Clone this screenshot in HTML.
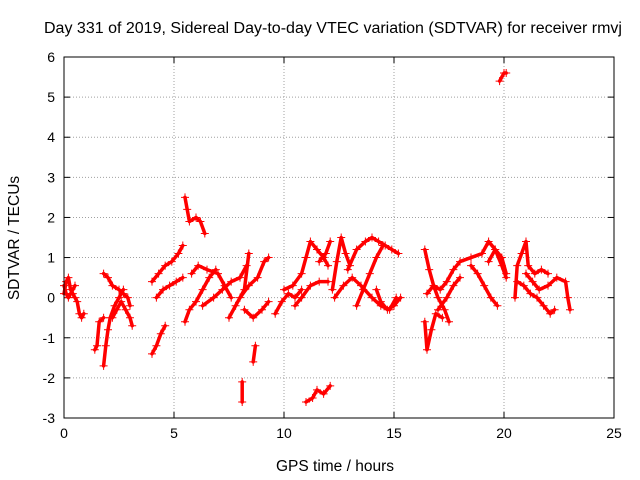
<!DOCTYPE html>
<html><head><meta charset="utf-8"><style>
body{margin:0;background:#fff}
svg{display:block;font-family:"Liberation Sans",sans-serif}
</style></head><body>
<svg id="chart" width="640" height="480" viewBox="0 0 640 480" xmlns="http://www.w3.org/2000/svg">
<text x="333" y="33" font-size="15.5" text-anchor="middle" textLength="578" lengthAdjust="spacingAndGlyphs">Day 331 of 2019, Sidereal Day-to-day VTEC variation (SDTVAR) for receiver rmvj</text>
<text x="335" y="471" font-size="15.5" text-anchor="middle">GPS time / hours</text>
<text x="19" y="238" font-size="15.5" text-anchor="middle" transform="rotate(-90 19 238)">SDTVAR / TECUs</text>
<g id="grid"></g><g id="ticks"></g><g id="series"></g>
<rect x="64" y="57" width="550" height="361" fill="none" stroke="#000" stroke-width="1"/>
</svg>
<script>
const xTicks=[0,5,10,15,20,25];
const yTicks=[-3,-2,-1,0,1,2,3,4,5,6];
const tracks=[
[[0,0.1],[0.1,0.4],[0.2,0.5],[0.3,0.2],[0.4,0.1],[0.5,0.0],[0.6,-0.1],[0.7,-0.4],[0.8,-0.5],[0.9,-0.4]],
[[0,0.3],[0.1,0.1],[0.2,0.0],[0.3,0.1],[0.5,0.3]],
[[1.4,-1.3],[1.5,-1.2],[1.6,-0.6],[1.8,-0.5]],
[[1.8,-1.7],[1.9,-1.2],[2.0,-0.8],[2.1,-0.5],[2.3,-0.2],[2.5,0.0],[2.7,0.2]],
[[1.8,0.6],[2.0,0.5],[2.2,0.3],[2.5,0.2],[2.7,0.1],[2.9,0.0],[3.0,-0.2]],
[[2.2,-0.5],[2.4,-0.3],[2.6,-0.1],[2.8,-0.3],[3.0,-0.5],[3.1,-0.7]],
[[4.0,-1.4],[4.2,-1.2],[4.4,-0.9],[4.6,-0.7]],
[[4.0,0.4],[4.3,0.6],[4.6,0.8],[4.9,0.9],[5.2,1.1],[5.4,1.3]],
[[4.2,0.0],[4.5,0.2],[4.8,0.3],[5.1,0.4],[5.4,0.5]],
[[5.5,2.5],[5.6,2.2],[5.7,1.9],[6.0,2.0],[6.2,1.9],[6.4,1.6]],
[[5.5,-0.6],[5.7,-0.3],[6.0,-0.1],[6.3,0.2],[6.6,0.5],[6.9,0.7]],
[[5.8,0.6],[6.1,0.8],[6.5,0.7],[7.0,0.6],[7.3,0.3],[7.6,0.0]],
[[6.3,-0.2],[6.8,0.0],[7.2,0.2],[7.6,0.4],[8.0,0.5],[8.3,0.8]],
[[7.5,-0.5],[7.8,-0.2],[8.2,0.2],[8.4,1.1]],
[[8.0,0.0],[8.4,0.3],[8.8,0.5],[9.1,0.9],[9.3,1.0]],
[[8.2,-0.3],[8.6,-0.5],[9.0,-0.3],[9.3,-0.1]],
[[8.6,-1.6],[8.7,-1.2]],
[[8.1,-2.1],[8.1,-2.6]],
[[9.6,-0.4],[9.9,-0.1],[10.2,0.1],[10.5,0.0],[10.8,0.2]],
[[10.0,0.2],[10.4,0.3],[10.8,0.6],[11.0,1.0],[11.2,1.4],[11.5,1.2],[11.8,1.0],[12.0,0.8]],
[[10.5,-0.2],[10.8,0.0],[11.2,0.3],[11.6,0.4],[12.0,0.4]],
[[11.0,-2.6],[11.3,-2.5],[11.5,-2.3],[11.8,-2.4],[12.1,-2.2]],
[[11.6,0.9],[11.9,1.1],[12.1,1.4]],
[[12.2,0.2],[12.4,0.9],[12.6,1.5],[12.8,1.1],[13.0,0.8]],
[[12.3,0.0],[12.7,0.3],[13.1,0.5],[13.5,0.3],[14.0,0.0],[14.4,-0.2],[14.8,-0.3],[15.1,0.0]],
[[12.9,0.7],[13.3,1.2],[13.7,1.4],[14.0,1.5],[14.3,1.4],[14.6,1.3],[14.9,1.2],[15.2,1.1]],
[[13.3,-0.2],[13.6,0.2],[13.9,0.6],[14.2,1.0],[14.5,1.3]],
[[14.2,0.2],[14.4,-0.1],[14.7,-0.3],[15.0,-0.2],[15.3,0.0]],
[[16.4,-0.6],[16.5,-1.3],[16.7,-0.8],[16.9,-0.4],[17.2,-0.5]],
[[16.4,1.2],[16.6,0.7],[16.8,0.3],[17.0,0.0],[17.3,-0.3],[17.5,-0.6]],
[[16.5,0.1],[16.8,0.3],[17.1,0.2],[17.4,0.4],[17.7,0.7],[18.0,0.9],[18.5,1.0],[19.0,1.1],[19.3,1.4],[19.6,1.2],[19.9,0.8],[20.1,0.5]],
[[17.0,-0.3],[17.4,0.0],[17.7,0.3],[18.0,0.5]],
[[18.5,0.8],[18.8,0.6],[19.1,0.3],[19.4,0.0],[19.7,-0.2]],
[[19.3,0.9],[19.6,1.2],[19.9,1.0],[20.1,0.6]],
[[19.8,5.4],[20.0,5.6],[20.1,5.6]],
[[20.5,0.0],[20.6,0.8],[20.8,1.1],[21.0,1.4],[21.1,0.8],[21.4,0.6],[21.7,0.7],[22.0,0.6]],
[[20.6,0.4],[20.9,0.3],[21.2,0.1],[21.5,0.0],[21.8,-0.2],[22.1,-0.4],[22.3,-0.3]],
[[21.0,0.6],[21.3,0.4],[21.6,0.2],[22.0,0.3],[22.4,0.5],[22.8,0.4],[22.9,0.0],[23.0,-0.3]]
];
const NS="http://www.w3.org/2000/svg";
const X0=64,X1=614,Y0=418,Y1=57;
function sx(v){return X0+(v-0)/(25-0)*(X1-X0);}
function sy(v){return Y0-(v+3)/(9)*(Y0-Y1);}
const grid=document.getElementById('grid'),ticks=document.getElementById('ticks'),ser=document.getElementById('series');
function mk(tag,attrs,parent){const e=document.createElementNS(NS,tag);for(const k in attrs)e.setAttribute(k,attrs[k]);parent.appendChild(e);return e;}
xTicks.forEach(t=>{
  const x=sx(t);
  if(t>0&&t<25){const g=mk('line',{x1:x,x2:x,y1:Y0,y2:Y1,stroke:'#a0a0a0','stroke-dasharray':'1,2'},grid);
  
  }
  mk('line',{x1:x,x2:x,y1:Y0,y2:Y0-6,stroke:'#000'},ticks);
  mk('line',{x1:x,x2:x,y1:Y1,y2:Y1+6,stroke:'#000'},ticks);
  const l=mk('text',{x:x,y:Y0+20,'font-size':'14','text-anchor':'middle'},ticks);l.textContent=t;
  
  
});
yTicks.forEach(t=>{
  const y=sy(t);
  if(t>-3&&t<6){const g=mk('line',{x1:X0,x2:X1,y1:y,y2:y,stroke:'#a0a0a0','stroke-dasharray':'1,2'},grid);
  
  }
  mk('line',{x1:X0,x2:X0+6,y1:y,y2:y,stroke:'#000'},ticks);
  mk('line',{x1:X1,x2:X1-6,y1:y,y2:y,stroke:'#000'},ticks);
  const l=mk('text',{x:X0-9,y:y+5,'font-size':'14','text-anchor':'end'},ticks);l.textContent=t;
  
  
});
tracks.forEach((tr,i)=>{
  const g=mk('g',{},ser);
  
  
  const pts=tr.map(p=>sx(p[0])+','+sy(p[1])).join(' ');
  mk('polyline',{points:pts,fill:'none',stroke:'#ff0000','stroke-width':'3.5','stroke-linejoin':'round','stroke-linecap':'round'},g);
  tr.forEach(p=>{
    const x=sx(p[0]),y=sy(p[1]);
    const m=mk('path',{d:`M${x-4},${y}H${x+4}M${x},${y-4}V${y+4}`,stroke:'#ff0000','stroke-width':'1'},g);
    
    
  });
});
</script>
</body></html>
